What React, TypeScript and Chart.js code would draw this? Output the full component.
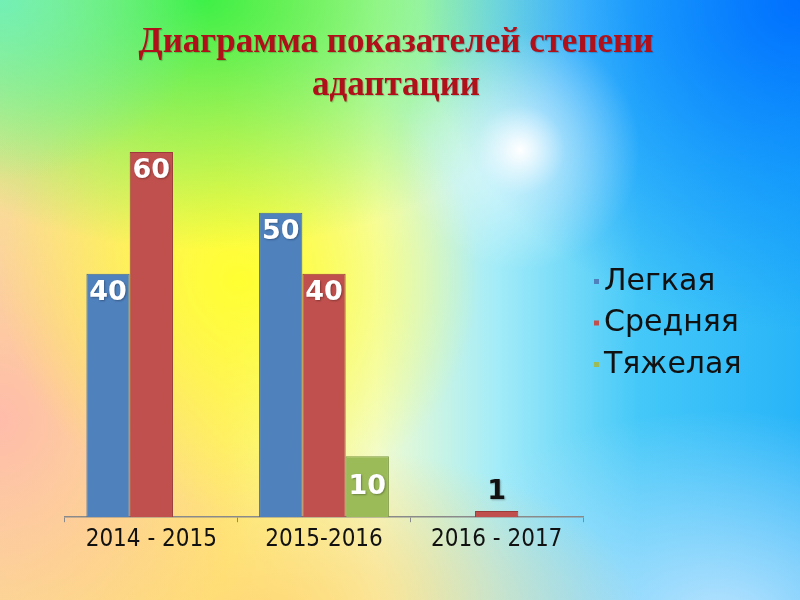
import React, { useEffect, useRef } from 'react';
import { Chart, registerables } from 'chart.js';

Chart.register(...registerables);

const categories = ['2014 - 2015', '2015-2016', '2016 - 2017'];
const seriesNames = ['Легкая', 'Средняя', 'Тяжелая'];
const lightValues: (number | null)[] = [40, 50, null];
const mediumValues: (number | null)[] = [60, 40, 1];
const heavyValues: (number | null)[] = [null, 10, null];
const seriesColors = ['#4F81BD', '#C0504D', '#9BBB59'];
const seriesBorders = ['#3f6a9c', '#9c3c3a', '#7e9a46'];
const titleLines = ['Диаграмма показателей степени', 'адаптации'];

const titlePlugin = {
  id: 'slideTitle',
  afterDraw(chart: any) {
    const ctx = chart.ctx;
    ctx.save();
    ctx.font = 'bold 35px "Liberation Serif"';
    ctx.textAlign = 'center';
    ctx.textBaseline = 'middle';
    ctx.shadowColor = 'rgba(0,0,0,0.2)';
    ctx.shadowBlur = 1;
    ctx.shadowOffsetX = 1;
    ctx.shadowOffsetY = 1;
    ctx.fillStyle = '#B0101A';
    titleLines.forEach((line, i) => {
      ctx.fillText(line, 396, 43 + i * 43);
    });
    ctx.restore();
  },
};

const valueLabelPlugin = {
  id: 'valueLabels',
  afterDatasetsDraw(chart: any) {
    const ctx = chart.ctx;
    ctx.save();
    ctx.font = 'bold 27px "DejaVu Sans"';
    ctx.textAlign = 'center';
    ctx.textBaseline = 'middle';
    chart.data.datasets.forEach((ds: any, i: number) => {
      const meta = chart.getDatasetMeta(i);
      meta.data.forEach((bar: any, j: number) => {
        const v = ds.data[j];
        if (v === null || v === undefined) return;
        const h = bar.base - bar.y;
        const inside = h > 30;
        ctx.shadowColor = 'rgba(0,0,0,0.3)';
        ctx.shadowBlur = 2;
        ctx.shadowOffsetX = 1;
        ctx.shadowOffsetY = 1;
        ctx.fillStyle = inside ? '#ffffff' : '#111111';
        let y: number;
        if (!inside) y = bar.y - 19;
        else if (h < 80) y = (bar.y + bar.base) / 2;
        else y = bar.y + 19;
        ctx.fillText(String(v), bar.x, y);
      });
    });
    ctx.restore();
  },
};

const legendPlugin = {
  id: 'sideLegend',
  afterDraw(chart: any) {
    const ctx = chart.ctx;
    const x = 594;
    ctx.save();
    ctx.font = '30px "DejaVu Sans"';
    ctx.textAlign = 'left';
    ctx.textBaseline = 'middle';
    chart.data.datasets.forEach((ds: any, i: number) => {
      const y = 282 + i * 41.5;
      ctx.fillStyle = ds.backgroundColor;
      ctx.fillRect(x, y - 3, 5, 5);
      ctx.fillStyle = '#111111';
      ctx.fillText(ds.label, x + 10, y);
    });
    ctx.restore();
  },
};

export default function App() {
  const ref = useRef<HTMLCanvasElement>(null);
  useEffect(() => {
    if (!ref.current) return;
    const valueSets = [lightValues, mediumValues, heavyValues];
    const chart = new Chart(ref.current, {
      type: 'bar',
      data: {
        labels: categories,
        datasets: seriesNames.map((name, i) => ({
          label: name,
          data: valueSets[i],
          backgroundColor: seriesColors[i],
          borderColor: seriesBorders[i],
          borderWidth: 1,
          categoryPercentage: 0.752,
          barPercentage: 1,
        })),
      },
      options: {
        animation: false,
        responsive: false,
        maintainAspectRatio: false,
        layout: { padding: { top: 91, left: 65, right: 217, bottom: 43 } },
        plugins: {
          legend: { display: false },
          tooltip: { enabled: false },
          title: { display: false },
        },
        scales: {
          x: {
            grid: {
              display: true,
              drawOnChartArea: false,
              drawTicks: true,
              tickLength: 5,
              color: '#8a8a8a',
              offset: true,
            },
            border: { display: true, color: '#8a8a8a', width: 1.5 },
            ticks: {
              color: '#111111',
              font: { family: '"DejaVu Sans Condensed", "DejaVu Sans"', size: 24 },
              padding: 3,
            },
          },
          y: {
            display: false,
            min: 0,
            max: 70,
          },
        },
      },
      plugins: [titlePlugin, valueLabelPlugin, legendPlugin],
    });
    return () => chart.destroy();
  }, []);

  const bg = [
    'radial-gradient(circle at 520px 150px, rgba(255,255,255,1) 0px, rgba(255,255,255,0.85) 12px, rgba(255,255,255,0.4) 45px, rgba(255,255,255,0) 120px)',
    'radial-gradient(ellipse 380px 330px at 800px 0px, rgba(0,112,255,1) 0%, rgba(0,130,255,0.5) 55%, rgba(0,140,255,0) 100%)',
    'radial-gradient(ellipse 210px 180px at 0px 0px, rgba(110,240,190,0.9) 0%, rgba(110,240,190,0) 100%)',
    'radial-gradient(ellipse 380px 250px at 200px 0px, rgba(60,240,70,1) 0%, rgba(60,240,70,0) 100%)',
    'radial-gradient(ellipse 240px 230px at 240px 280px, rgba(255,255,50,1) 0%, rgba(255,255,50,0) 100%)',
    'radial-gradient(ellipse 260px 300px at 0px 420px, rgba(255,188,170,1) 0%, rgba(255,188,170,0) 100%)',
    'radial-gradient(ellipse 380px 170px at 260px 610px, rgba(255,216,120,0.95) 0%, rgba(255,216,120,0) 100%)',
    'radial-gradient(ellipse 320px 210px at 720px 620px, rgba(190,228,255,0.95) 0%, rgba(190,228,255,0) 100%)',
    'linear-gradient(90deg, #f8e890 0%, #fff070 28%, #f2fcd0 47%, #a4ecf8 62%, #44c8f8 80%, #28b4f8 100%)',
  ].join(', ');

  return (
    <div
      style={{
        position: 'fixed',
        left: 0,
        top: 0,
        width: 800,
        height: 600,
        background: bg,
      }}
    >
      <canvas ref={ref} width={800} height={600} style={{ display: 'block', width: 800, height: 600 }} />
    </div>
  );
}
